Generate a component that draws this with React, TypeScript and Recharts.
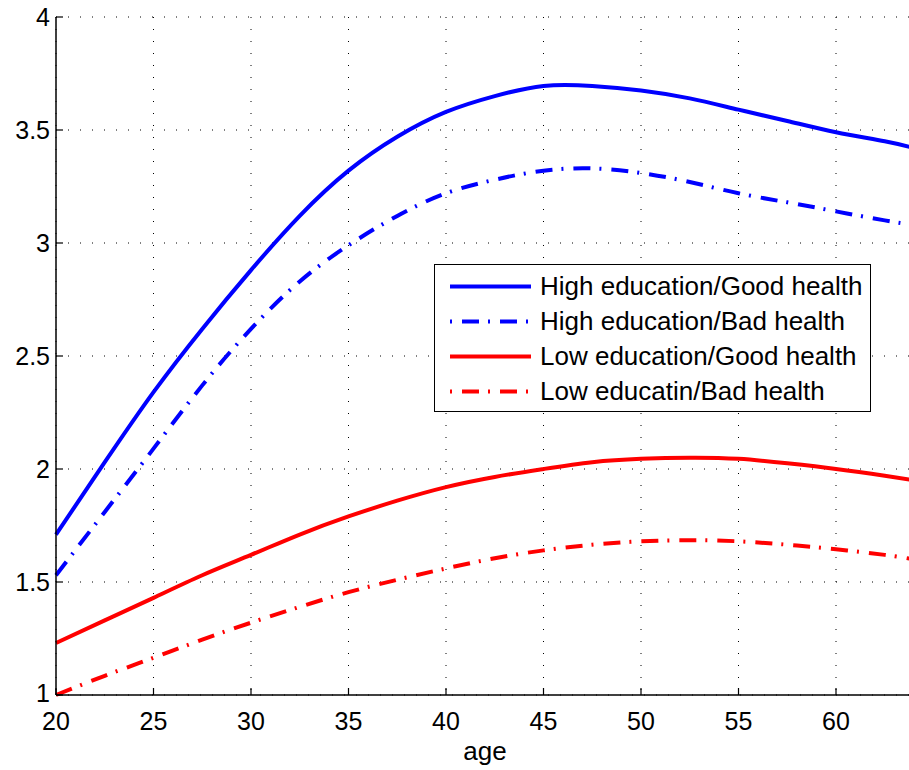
import React from 'react';
import { LineChart, Line, XAxis, YAxis, CartesianGrid, Legend } from 'recharts';

const ages = [20, 22.5, 25, 27.5, 30, 32.5, 35, 37.5, 40, 42.5, 45, 47.5, 50, 52.5, 55, 57.5, 60, 62.5, 64];

const highGood = [1.71, 2.03, 2.34, 2.62, 2.88, 3.12, 3.32, 3.47, 3.58, 3.65, 3.695, 3.695, 3.675, 3.64, 3.59, 3.54, 3.49, 3.45, 3.42];
const highBad = [1.53, 1.81, 2.09, 2.37, 2.62, 2.83, 2.99, 3.12, 3.22, 3.28, 3.32, 3.33, 3.31, 3.27, 3.22, 3.18, 3.14, 3.1, 3.08];
const lowGood = [1.23, 1.33, 1.43, 1.53, 1.62, 1.71, 1.79, 1.86, 1.92, 1.965, 2.0, 2.03, 2.045, 2.05, 2.045, 2.025, 2.0, 1.97, 1.95];
const lowBad = [1.0, 1.085, 1.165, 1.245, 1.32, 1.39, 1.455, 1.51, 1.56, 1.605, 1.64, 1.665, 1.68, 1.685, 1.68, 1.665, 1.645, 1.62, 1.6];

const xTicks = [20, 25, 30, 35, 40, 45, 50, 55, 60];
const yTicks = [1, 1.5, 2, 2.5, 3, 3.5, 4];

const series = [
  { key: 'highGood', name: 'High education/Good health', color: '#0000ff', dash: undefined },
  { key: 'highBad', name: 'High education/Bad health', color: '#0000ff', dash: '17 9 2 10' },
  { key: 'lowGood', name: 'Low education/Good health', color: '#ff0000', dash: undefined },
  { key: 'lowBad', name: 'Low educatin/Bad health', color: '#ff0000', dash: '17 9 2 10' },
];

const data = ages.map((age, i) => ({
  age,
  highGood: highGood[i],
  highBad: highBad[i],
  lowGood: lowGood[i],
  lowBad: lowBad[i],
}));

const FONT = 'Liberation Sans, Arial, Helvetica, sans-serif';

const BottomTick = ({ x, y, payload }: any) => (
  <g>
    <line x1={x} y1={y} x2={x} y2={y - 7} stroke="#000" strokeWidth={1.2} />
    <text x={x} y={y + 35} textAnchor="middle" fontSize={25} fontFamily={FONT} fill="#000">
      {payload.value}
    </text>
  </g>
);

const TopTick = ({ x, y }: any) => (
  <line x1={x} y1={y} x2={x} y2={y + 7} stroke="#000" strokeWidth={1.2} />
);

const LeftTick = ({ x, y, payload }: any) => (
  <g>
    <line x1={x} y1={y} x2={x + 7} y2={y} stroke="#000" strokeWidth={1.2} />
    <text x={x - 6} y={payload.value === 1 ? y + 7 : y + 9} textAnchor="end" fontSize={25} fontFamily={FONT} fill="#000">
      {payload.value}
    </text>
  </g>
);

const LegendBox = () => (
  <div
    style={{
      border: '1.5px solid #000',
      background: '#fff',
      padding: '4px 0 0 0',
      boxSizing: 'border-box',
      width: 437,
      height: 148,
      fontFamily: FONT,
      fontSize: 26,
    }}
  >
    {series.map((s) => (
      <div key={s.key} style={{ display: 'flex', alignItems: 'center', height: 35 }}>
        <svg width={105} height={35} style={{ flex: 'none' }}>
          <line
            x1={15}
            y1={17.5}
            x2={96}
            y2={17.5}
            stroke={s.color}
            strokeWidth={4}
            strokeDasharray={s.dash ? '2 10 17 9' : undefined}
          />
        </svg>
        <span style={{ whiteSpace: 'nowrap', lineHeight: '35px' }}>{s.name}</span>
      </div>
    ))}
  </div>
);

export default function App() {
  return (
    <div style={{ position: 'absolute', left: 0, top: 0, width: 909, height: 770, overflow: 'hidden', background: '#fff' }}>
      <LineChart width={914} height={770} data={data} margin={{ top: 17, right: 0, bottom: 0, left: 0 }}>
        <CartesianGrid stroke="#000" strokeDasharray="1 11" strokeWidth={1} />
        <XAxis
          dataKey="age"
          type="number"
          domain={[20, 64]}
          ticks={xTicks}
          height={75}
          tickSize={0}
          tickMargin={0}
          tick={<BottomTick />}
          axisLine={{ stroke: '#000', strokeWidth: 1.5 }}
          tickLine={false}
          label={{ value: 'age', position: 'insideBottom', offset: 10, fontSize: 26, fontFamily: FONT, fill: '#000' }}
        />
        <XAxis
          xAxisId="top"
          dataKey="age"
          type="number"
          orientation="top"
          domain={[20, 64]}
          ticks={xTicks}
          height={0}
          tickSize={0}
          tickMargin={0}
          tick={<TopTick />}
          axisLine={{ stroke: '#000', strokeWidth: 1.5 }}
          tickLine={false}
        />
        <YAxis
          type="number"
          domain={[1, 4]}
          ticks={yTicks}
          width={56}
          tickSize={0}
          tickMargin={0}
          tick={<LeftTick />}
          axisLine={{ stroke: '#000', strokeWidth: 1.5 }}
          tickLine={false}
        />
        {series.map((s) => (
          <Line
            key={s.key}
            dataKey={s.key}
            name={s.name}
            type="natural"
            stroke={s.color}
            strokeWidth={4}
            strokeDasharray={s.dash}
            dot={false}
            activeDot={false}
            isAnimationActive={false}
          />
        ))}
        <Legend
          layout="vertical"
          align="center"
          verticalAlign="middle"
          content={<LegendBox />}
          wrapperStyle={{ left: 434, top: 264, width: 437, height: 148 }}
        />
      </LineChart>
    </div>
  );
}
